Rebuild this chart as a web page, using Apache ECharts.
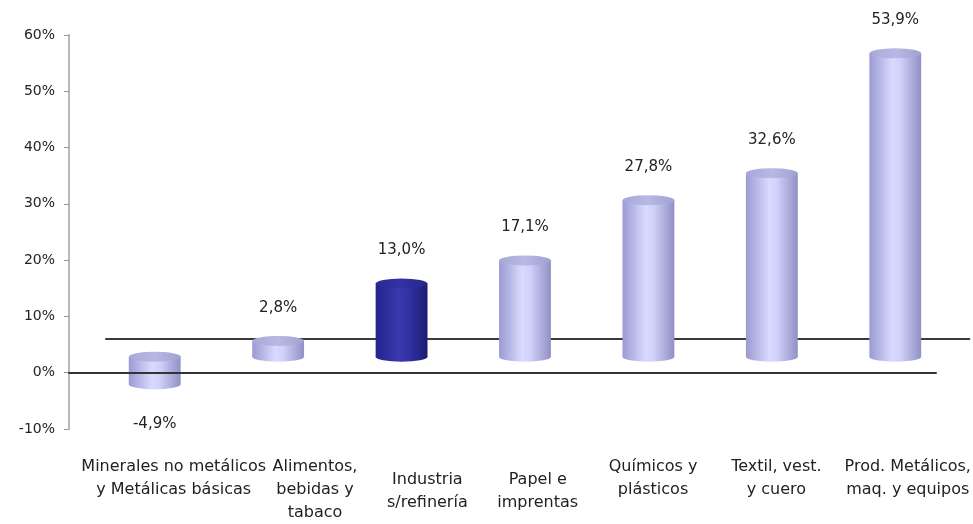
<!DOCTYPE html>
<html>
<head>
<meta charset="utf-8">
<script src="https://cdn.jsdelivr.net/npm/echarts@6/dist/echarts.min.js"></script>
<style>
html,body{margin:0;padding:0;background:#fff;}
#chart{width:973px;height:524px;}
</style>
</head>
<body>
<div id="chart"></div>
<script>
const categories = [
  'Minerales no metálicos\ny Metálicas básicas',
  'Alimentos,\nbebidas y\ntabaco',
  'Industria\ns/refinería',
  'Papel e\nimprentas',
  'Químicos y\nplásticos',
  'Textil, vest.\ny cuero',
  'Prod. Metálicos,\nmaq. y equipos'
];
const values = [-4.9, 2.8, 13.0, 17.1, 27.8, 32.6, 53.9];
const highlighted = 'Industria\ns/refinería';
const yMin = -10, yMax = 60, yInterval = 10;

const FONT = '"DejaVu Sans", sans-serif';
const chart = echarts.init(document.getElementById('chart'), null, {renderer: 'canvas'});

function fmt(v) { return v.toFixed(1).replace('.', ',') + '%'; }

const lightBody = () => new echarts.graphic.LinearGradient(0, 0, 1, 0, [
  {offset: 0, color: '#9a9ad2'}, {offset: 0.45, color: '#dadaff'},
  {offset: 0.6, color: '#d0d0fa'}, {offset: 1, color: '#9090c4'}]);
const lightTop = () => new echarts.graphic.LinearGradient(0, 0, 1, 0, [
  {offset: 0, color: '#a8a8d8'}, {offset: 0.5, color: '#b8b8e4'}, {offset: 1, color: '#a2a2d2'}]);
const darkBody = () => new echarts.graphic.LinearGradient(0, 0, 1, 0, [
  {offset: 0, color: '#23238a'}, {offset: 0.45, color: '#3a3ab0'},
  {offset: 0.6, color: '#3434a6'}, {offset: 1, color: '#1c1c74'}]);
const darkTop = () => new echarts.graphic.LinearGradient(0, 0, 1, 0, [
  {offset: 0, color: '#2a2a96'}, {offset: 0.5, color: '#3232a4'}, {offset: 1, color: '#262688'}]);

function renderCylinder(params, api) {
  const idx = api.value(0), v = api.value(1);
  const p0 = api.coord([idx, 0]);
  const p1 = api.coord([idx, v]);
  const w = api.size([1, 0])[0] * 0.42;
  const rx = w / 2, ry = 5;
  const cx = p0[0];
  const yt = Math.min(p0[1], p1[1]);
  const yb = Math.max(p0[1], p1[1]);
  const dark = categories[idx] === highlighted;
  const body = dark ? darkBody() : lightBody();
  const top = dark ? darkTop() : lightTop();
  const labelY = v >= 0 ? yt - 33 : yb + 40;
  return {
    type: 'group',
    children: [
      {type: 'circle', shape: {cx: 0, cy: 0, r: rx}, x: cx, y: yb, scaleY: ry / rx, style: {fill: body}},
      {type: 'rect', shape: {x: cx - rx, y: yt, width: w, height: yb - yt}, style: {fill: body}},
      {type: 'circle', shape: {cx: 0, cy: 0, r: rx}, x: cx, y: yt, scaleY: ry / rx, style: {fill: top}},
      {type: 'text', x: cx, y: labelY, style: {
        text: fmt(v), fill: '#222', font: '15px ' + FONT,
        align: 'center', verticalAlign: 'middle', textAlign: 'center', textVerticalAlign: 'middle'}}
    ]
  };
}

// label placement tweaks (style only): [dy, dx]
const labelTweak = {
  'Minerales no metálicos\ny Metálicas básicas': [0, 6],
  'Alimentos,\nbebidas y\ntabaco': [0, 24],
  'Industria\ns/refinería': [13, 13],
  'Papel e\nimprentas': [13, 0],
  'Químicos y\nplásticos': [0, -8],
  'Textil, vest.\ny cuero': [0, -8],
  'Prod. Metálicos,\nmaq. y equipos': [0, 0]
};
const labelAxisData = categories.map(c => {
  const t = labelTweak[c] || [0, 0];
  const dx = t[1];
  return {
    value: c,
    textStyle: {padding: [t[0], dx < 0 ? -2 * dx : 0, 0, dx > 0 ? 2 * dx : 0]}
  };
});

const option = {
  animation: false,
  backgroundColor: '#ffffff',
  grid: [
    {left: 69, right: 37, top: 35, bottom: 95},
    {left: 93, right: 16, top: 19, bottom: 111},
    {left: 106, right: -9, top: 3, bottom: 181}
  ],
  xAxis: [
    {type: 'category', gridIndex: 0, data: categories, z: 10,
      axisLine: {show: true, onZero: true, lineStyle: {color: '#333', width: 2}},
      axisTick: {show: false}, axisLabel: {show: false}, splitLine: {show: false}},
    {type: 'category', gridIndex: 1, data: categories,
      axisLine: {show: false}, axisTick: {show: false}, axisLabel: {show: false}},
    {type: 'category', gridIndex: 2, data: labelAxisData, position: 'bottom',
      axisLine: {show: true, onZero: false, lineStyle: {color: '#3a3a3a', width: 2}},
      axisTick: {show: false},
      axisLabel: {show: true, interval: 0, margin: 116, color: '#222',
        fontFamily: 'DejaVu Sans', fontSize: 16, lineHeight: 23, verticalAlign: 'top'}}
  ],
  yAxis: [
    {type: 'value', gridIndex: 0, min: yMin, max: yMax, interval: yInterval,
      axisLine: {show: true, lineStyle: {color: '#b8b8b8', width: 2}},
      axisTick: {show: true, inside: false, length: 5, lineStyle: {color: '#999', width: 1}},
      axisLabel: {formatter: '{value}%', color: '#222', fontFamily: 'DejaVu Sans', fontSize: 14, margin: 14},
      splitLine: {show: false}},
    {type: 'value', gridIndex: 1, min: yMin, max: yMax, interval: yInterval, show: false},
    {type: 'value', gridIndex: 2, min: 0, max: 1, show: false}
  ],
  series: [
    {type: 'custom', xAxisIndex: 1, yAxisIndex: 1, z: 3,
      data: values.map((v, i) => [i, v]),
      renderItem: renderCylinder}
  ]
};
chart.setOption(option);
</script>
</body>
</html>
